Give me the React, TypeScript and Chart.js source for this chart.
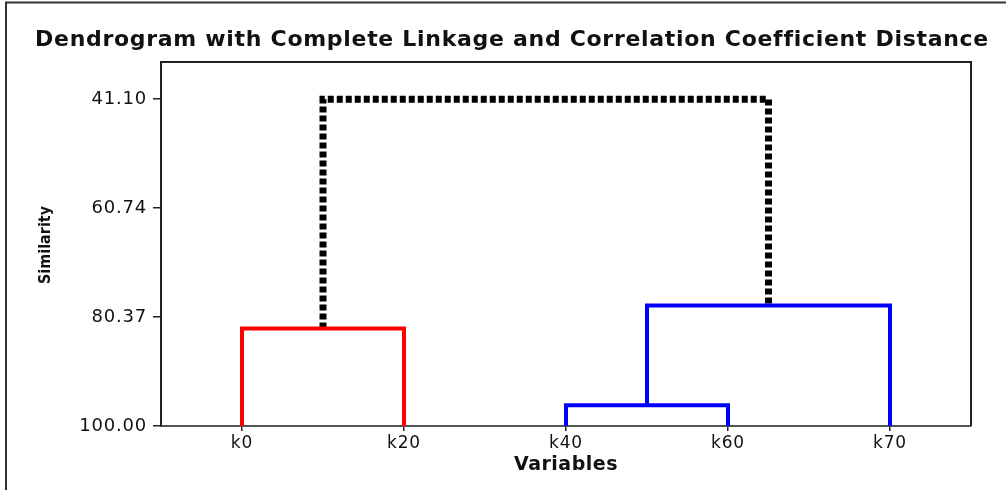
import React, { useEffect, useRef } from 'react';
import { Chart, registerables } from 'chart.js';

Chart.register(...registerables);

const leafNames = ['k0', 'k20', 'k40', 'k60', 'k70'];
const leafSimilarity = 100;
const yTickValues = [41.1, 60.74, 80.37, 100.0];
// merges: leaves are ids 0..4, each merge creates id 5, 6, 7, 8
const mergeLeftId = [0, 2, 6, 5];
const mergeRightId = [1, 3, 4, 7];
const mergeSimilarity = [82.42, 96.27, 78.28, 41.1];
const mergeGroup = ['cluster1', 'cluster2', 'cluster2', 'link'];

const chartTitle = 'Dendrogram with Complete Linkage and Correlation Coefficient Distance';
const xTitle = 'Variables';
const yTitle = 'Similarity';

const groupStyle: Record<string, { color: string; width: number; dash: number[] }> = {
  cluster1: { color: '#ff0000', width: 4, dash: [] },
  cluster2: { color: '#0000ff', width: 4, dash: [] },
  link: { color: '#000000', width: 7, dash: [6, 3] },
};

function buildDatasets() {
  const pos: number[] = leafNames.map((_, i) => i);
  const h: number[] = leafNames.map(() => leafSimilarity);
  return mergeSimilarity.map((s, k) => {
    const a = mergeLeftId[k];
    const b = mergeRightId[k];
    const data = [
      { x: pos[a], y: h[a] },
      { x: pos[a], y: s },
      { x: pos[b], y: s },
      { x: pos[b], y: h[b] },
    ];
    pos.push((pos[a] + pos[b]) / 2);
    h.push(s);
    const st = groupStyle[mergeGroup[k]];
    return {
      label: mergeGroup[k],
      data,
      showLine: true,
      borderColor: st.color,
      backgroundColor: st.color,
      borderWidth: st.width,
      borderDash: st.dash,
      borderJoinStyle: 'miter' as const,
      borderCapStyle: 'butt' as const,
      pointRadius: 0,
      pointHoverRadius: 0,
      fill: false,
      tension: 0,
    };
  });
}

const decorPlugin = {
  id: 'decor',
  beforeDraw(chart: any) {
    const ctx = chart.ctx;
    ctx.fillStyle = '#ffffff';
    ctx.fillRect(0, 0, chart.width, chart.height);
    ctx.letterSpacing = '0.8px';
  },
  afterDraw(chart: any) {
    const ctx = chart.ctx;
    const ca = chart.chartArea;
    ctx.save();
    ctx.letterSpacing = '0px';
    // outer frame
    ctx.strokeStyle = '#333333';
    ctx.lineWidth = 2;
    ctx.beginPath();
    ctx.moveTo(6, 490);
    ctx.lineTo(6, 2.5);
    ctx.lineTo(1006, 2.5);
    ctx.stroke();
    // plot top/right border
    ctx.strokeStyle = '#222222';
    ctx.lineWidth = 2;
    ctx.beginPath();
    ctx.moveTo(ca.left, ca.top);
    ctx.lineTo(ca.right, ca.top);
    ctx.lineTo(ca.right, ca.bottom);
    ctx.stroke();
    // titles
    ctx.fillStyle = '#111111';
    ctx.textAlign = 'center';
    ctx.textBaseline = 'middle';
    ctx.letterSpacing = '0.7px';
    ctx.font = 'bold 22px "DejaVu Sans", sans-serif';
    ctx.fillText(chartTitle, 512, 40);
    ctx.letterSpacing = '0.5px';
    ctx.font = 'bold 19px "DejaVu Sans", sans-serif';
    ctx.fillText(xTitle, (ca.left + ca.right) / 2, 465);
    ctx.letterSpacing = '0px';
    ctx.translate(46, 245);
    ctx.rotate(-Math.PI / 2);
    ctx.font = 'bold 16px "DejaVu Sans Condensed", "Liberation Sans Narrow", sans-serif';
    ctx.fillText(yTitle, 0, 0);
    ctx.restore();
  },
};

export default function App() {
  const canvasRef = useRef<HTMLCanvasElement | null>(null);

  useEffect(() => {
    document.body.style.margin = '0';
    const canvas = canvasRef.current;
    if (!canvas) return;
    const chart = new Chart(canvas, {
      type: 'scatter',
      data: { datasets: buildDatasets() as any },
      options: {
        animation: false,
        responsive: false,
        devicePixelRatio: 1,
        layout: { padding: { top: 62, right: 35, left: 0, bottom: 0 } },
        plugins: {
          legend: { display: false },
          tooltip: { enabled: false },
          title: { display: false },
        },
        events: [],
        scales: {
          x: {
            type: 'linear',
            min: -0.5,
            max: 4.5,
            afterBuildTicks: (s: any) => {
              s.ticks = leafNames.map((_, i) => ({ value: i }));
            },
            afterFit: (s: any) => {
              s.height = 64;
            },
            ticks: {
              callback: (v: any) => leafNames[Math.round(Number(v))] ?? '',
              font: { family: '"DejaVu Sans", sans-serif', size: 17 },
              color: '#111111',
              padding: 2,
              maxRotation: 0,
              autoSkip: false,
            },
            grid: {
              display: true,
              drawOnChartArea: false,
              drawTicks: true,
              tickLength: 5,
              color: '#222222',
              lineWidth: 1.5,
            },
            border: { display: true, color: '#555555', width: 2 },
          },
          y: {
            type: 'linear',
            reverse: true,
            min: 34.39,
            max: 100,
            afterBuildTicks: (s: any) => {
              s.ticks = yTickValues.map((v) => ({ value: v }));
            },
            afterFit: (s: any) => {
              s.width = 161;
            },
            ticks: {
              callback: (v: any) => Number(v).toFixed(2),
              font: { family: '"DejaVu Sans", sans-serif', size: 18 },
              color: '#111111',
              padding: 6,
              autoSkip: false,
            },
            grid: {
              display: true,
              drawOnChartArea: false,
              drawTicks: true,
              tickLength: 8,
              color: '#222222',
              lineWidth: 1.5,
            },
            border: { display: true, color: '#222222', width: 2 },
          },
        },
      },
      plugins: [decorPlugin],
    });
    return () => chart.destroy();
  }, []);

  return (
    <div style={{ width: 1006, height: 490 }}>
      <canvas ref={canvasRef} width={1006} height={490} style={{ display: 'block' }} />
    </div>
  );
}
